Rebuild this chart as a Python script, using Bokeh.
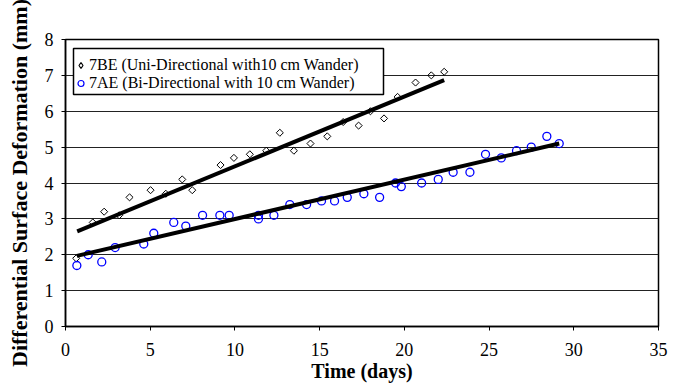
import math
from bokeh.plotting import figure
from bokeh.models import Range1d, Legend, LegendItem, FixedTicker, BoxAnnotation
from bokeh.embed import file_html
from bokeh.resources import INLINE

# 7BE (Uni-Directional with 10 cm Wander)
days_7be = [0.63, 1.61, 2.28, 3.17, 3.78, 5.02, 5.92, 6.89, 7.48, 9.15, 9.94, 10.88,
            11.85, 12.65, 13.48, 14.46, 15.45, 16.39, 17.30, 18.00, 18.80, 19.60,
            20.66, 21.59, 22.35]
def_7be = [1.9, 2.9, 3.2, 3.1, 3.6, 3.8, 3.7, 4.1, 3.8, 4.5, 4.7, 4.8,
           4.9, 5.4, 4.9, 5.1, 5.3, 5.7, 5.6, 6.0, 5.8, 6.4,
           6.8, 7.0, 7.1]

# 7AE (Bi-Directional with 10 cm Wander)
days_7ae = [0.67, 1.34, 2.14, 2.93, 4.62, 5.21, 6.39, 7.10, 8.09, 9.11, 9.66, 11.39,
            11.39, 12.30, 13.24, 14.23, 15.11, 15.88, 16.63, 17.61, 18.54, 19.48,
            19.82, 21.02, 22.00, 22.88, 23.87, 24.79, 25.72, 26.62, 27.49, 28.41, 29.14]
def_7ae = [1.7, 2.0, 1.8, 2.2, 2.3, 2.6, 2.9, 2.8, 3.1, 3.1, 3.1, 3.1,
           3.0, 3.1, 3.4, 3.4, 3.5, 3.5, 3.6, 3.7, 3.6, 4.0,
           3.9, 4.0, 4.1, 4.3, 4.3, 4.8, 4.7, 4.9, 5.0, 5.3, 5.1]

# linear trend lines (end points)
trend_7be_days = [0.69, 22.35]
trend_7be_def = [2.65, 6.87]
trend_7ae_days = [0.67, 29.14]
trend_7ae_def = [1.97, 5.10]

x_ticks = [0, 5, 10, 15, 20, 25, 30, 35]
y_ticks = [0, 1, 2, 3, 4, 5, 6, 7, 8]
label_7be = "7BE (Uni-Directional with10 cm Wander)"
label_7ae = "7AE (Bi-Directional with 10 cm Wander)"

FONT = "Liberation Serif"

p = figure(width=683, height=390, x_range=Range1d(0, 35), y_range=Range1d(0, 8),
           output_backend="svg", toolbar_location=None,
           min_border_left=65, min_border_right=25, min_border_top=39, min_border_bottom=64,
           background_fill_color="white", border_fill_color="white")

p.outline_line_color = "black"
p.outline_line_width = 1.5
p.outline_line_alpha = 1.0

p.xgrid.visible = False
p.ygrid.ticker = FixedTicker(ticks=y_ticks)
p.ygrid.grid_line_color = "#222222"
p.ygrid.grid_line_width = 1

for ax, ticks in ((p.xaxis[0], x_ticks), (p.yaxis[0], y_ticks)):
    ax.ticker = FixedTicker(ticks=ticks)
    ax.major_tick_in = 0
    ax.major_tick_out = 4
    ax.major_tick_line_color = "black"
    ax.minor_tick_line_color = None
    ax.axis_line_color = "black"
    ax.axis_line_width = 1.5
    ax.major_label_text_font = FONT
    ax.major_label_text_font_size = "18px"
    ax.major_label_text_color = "black"
    ax.axis_label_text_font = FONT
    ax.axis_label_text_font_style = "bold"
    ax.axis_label_text_color = "black"

p.xaxis.major_label_standoff = 12
p.yaxis.major_label_standoff = 8
p.xaxis.axis_label = "Time (days)"
p.xaxis.axis_label_text_font_size = "20px"
p.xaxis.axis_label_standoff = 1
p.yaxis.axis_label = "Differential Surface Deformation (mm)"
p.yaxis.axis_label_text_font_size = "22px"
p.yaxis.axis_label_standoff = 10

# data markers
p.scatter(days_7be, def_7be, marker="square", angle=math.pi / 4, size=5,
          fill_color=None, line_color="black", line_width=1)
p.scatter(days_7ae, def_7ae, marker="circle", size=8,
          fill_color=None, line_color="#0000FF", line_width=1.3)

# trend lines
p.line(trend_7be_days, trend_7be_def, line_color="black", line_width=4)
p.line(trend_7ae_days, trend_7ae_def, line_color="black", line_width=4)

# legend proxies (hidden renderers, only used for the legend swatches)
leg_be = p.scatter(days_7be, def_7be, marker="diamond", fill_color=None,
                   line_color="black", line_width=1.2, visible=False)
leg_ae = p.scatter(days_7ae, def_7ae, marker="circle", fill_color=None,
                   line_color="#0000FF", line_width=1.2, visible=False)

# legend frame (canvas pixels)
legend_frame = BoxAnnotation(left=73, right=383, top=48, bottom=94,
                             left_units="canvas", right_units="canvas",
                             top_units="canvas", bottom_units="canvas",
                             fill_color="white", fill_alpha=1.0,
                             line_color="black", line_width=1.5, line_alpha=1.0)
p.add_layout(legend_frame)

legend = Legend(items=[LegendItem(label=label_7be, renderers=[leg_be]),
                       LegendItem(label=label_7ae, renderers=[leg_ae])],
                location=(8, 234), margin=0, padding=3, spacing=-4,
                label_height=18, glyph_height=18, glyph_width=15,
                label_standoff=1,
                label_text_font=FONT, label_text_font_size="16px", label_text_color="black",
                border_line_color=None, background_fill_alpha=0.0,
                inactive_fill_alpha=0.0)
p.add_layout(legend, "center")

open("out.html", "w").write(file_html(p, INLINE))
